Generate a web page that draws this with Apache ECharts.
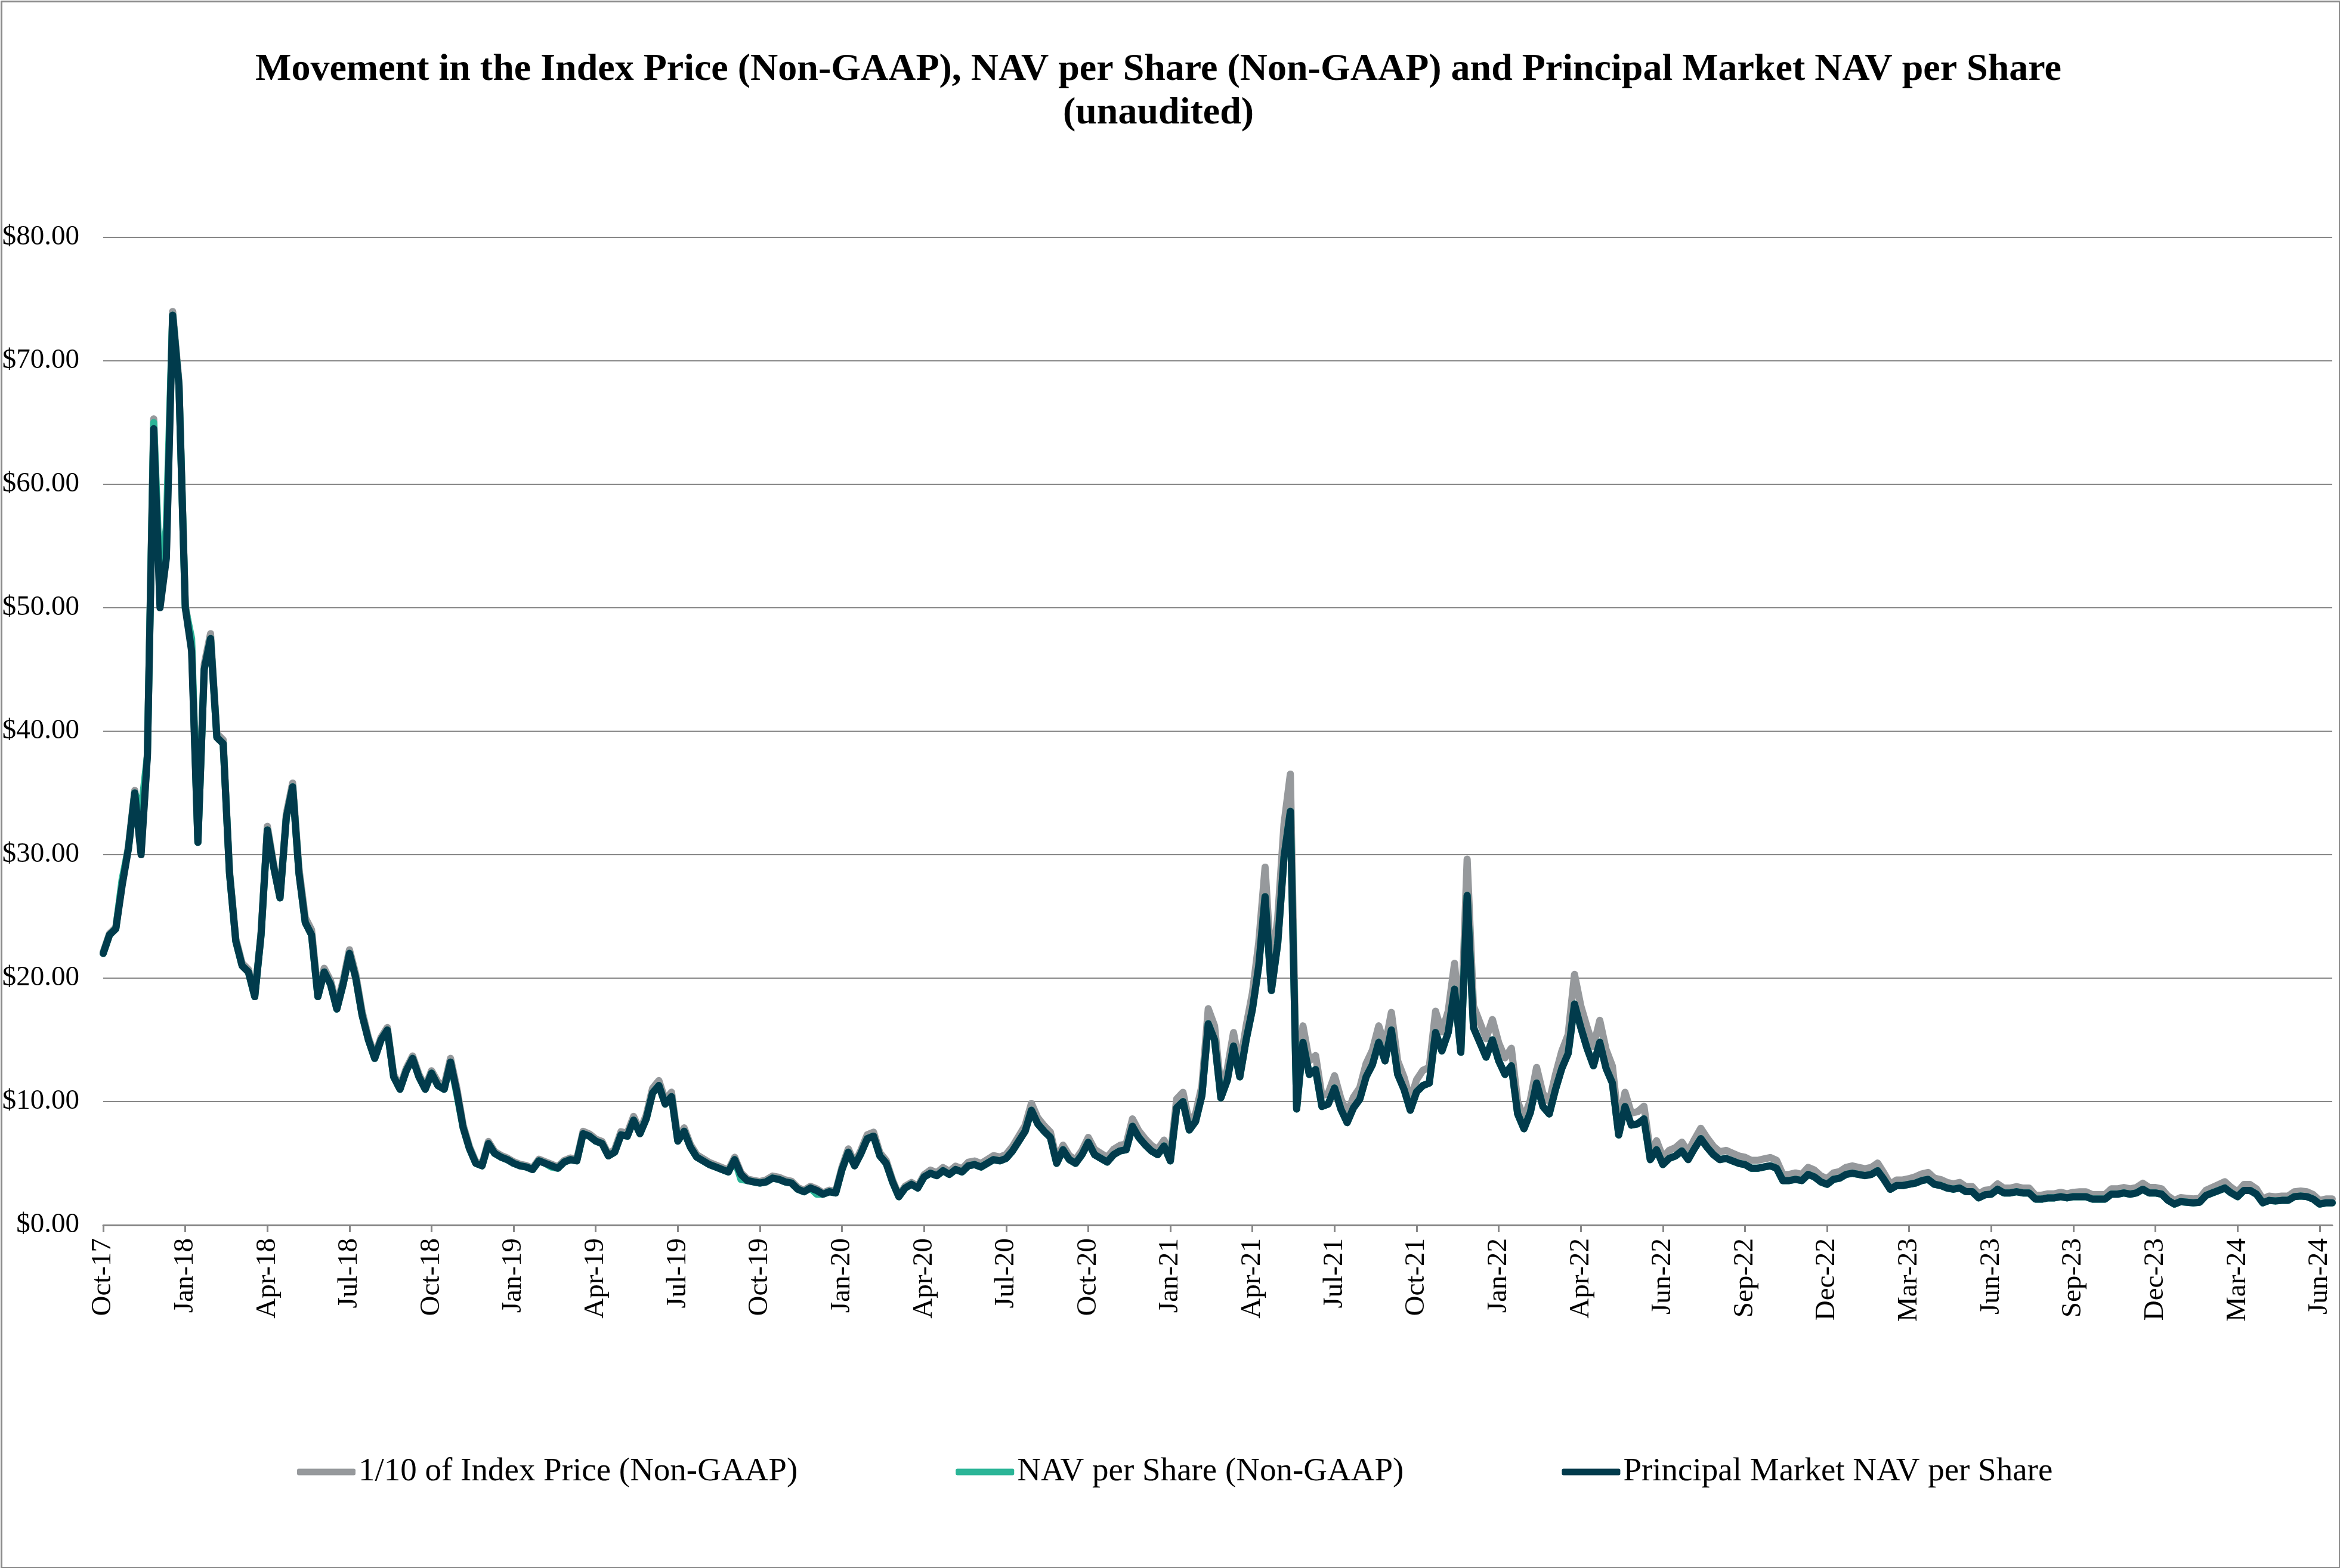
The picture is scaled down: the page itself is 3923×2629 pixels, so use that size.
<!DOCTYPE html>
<html>
<head>
<meta charset="utf-8">
<script src="https://cdn.jsdelivr.net/npm/echarts@6/dist/echarts.min.js"></script>
<style>
html,body{margin:0;padding:0;background:#fff;}
#chart{width:3923px;height:2629px;}
</style>
</head>
<body>
<div id="chart"></div>
<script>
// Quarterly tick labels (one every 13 weekly points)
const tickLabels = ["Oct-17","Jan-18","Apr-18","Jul-18","Oct-18","Jan-19","Apr-19","Jul-19","Oct-19","Jan-20","Apr-20","Jul-20","Oct-20","Jan-21","Apr-21","Jul-21","Oct-21","Jan-22","Apr-22","Jun-22","Sep-22","Dec-22","Mar-23","Jun-23","Sep-23","Dec-23","Mar-24","Jun-24"];
const seriesNames = ["1/10 of Index Price (Non-GAAP)","NAV per Share (Non-GAAP)","Principal Market NAV per Share"];

// Principal Market NAV per Share (weekly)
const principalNav = [
22.0,23.5,24.0,27.5,30.5,35.0,30.0,38.0,64.5,50.0,54.0,73.7,68.0,50.0,46.5,31.0,45.0,47.5,39.5,39.0,
28.5,23.0,21.0,20.5,18.5,23.5,32.0,29.0,26.5,33.0,35.5,28.5,24.5,23.5,18.5,20.5,19.5,17.5,19.5,22.0,
20.0,17.0,15.0,13.5,15.0,15.8,12.0,11.0,12.5,13.5,12.0,11.0,12.3,11.3,11.0,13.2,10.8,7.9,6.2,5.0,
4.8,6.6,5.8,5.5,5.3,5.0,4.8,4.7,4.5,5.2,5.0,4.8,4.6,5.1,5.3,5.2,7.4,7.2,6.8,6.6,
5.6,5.9,7.3,7.2,8.5,7.4,8.6,10.7,11.3,9.8,10.4,6.8,7.6,6.3,5.5,5.2,4.9,4.7,4.5,4.3,
5.3,4.1,3.6,3.5,3.4,3.5,3.8,3.7,3.5,3.4,2.9,2.7,3.0,2.8,2.5,2.7,2.6,4.5,5.9,4.8,
5.8,7.0,7.2,5.6,5.0,3.5,2.3,3.0,3.3,3.0,3.9,4.2,4.0,4.4,4.1,4.5,4.3,4.8,4.9,4.7,
5.0,5.3,5.2,5.4,6.0,6.8,7.6,9.3,8.2,7.6,7.1,5.0,6.1,5.3,5.0,5.7,6.7,5.7,5.4,5.1,
5.7,6.0,6.1,8.0,7.1,6.5,6.0,5.7,6.4,5.2,9.5,10.0,7.7,8.4,10.5,16.3,15.0,10.3,11.7,14.5,
12.0,15.0,17.5,21.0,26.6,19.0,22.8,29.8,33.5,9.4,14.8,12.2,12.6,9.6,9.8,11.1,9.4,8.3,9.5,10.2,
12.0,13.0,14.8,13.3,15.8,12.2,11.0,9.3,10.8,11.3,11.5,15.6,14.1,15.6,19.1,14.0,26.7,16.0,14.8,13.6,
15.0,13.3,12.2,12.9,9.0,7.8,9.1,11.5,9.6,9.0,11.0,12.7,13.9,17.9,16.0,14.3,12.9,14.8,12.7,11.5,
7.3,9.6,8.1,8.2,8.6,5.3,6.1,4.9,5.4,5.6,6.0,5.3,6.2,7.0,6.3,5.7,5.3,5.4,5.2,5.0,
4.9,4.6,4.6,4.7,4.8,4.6,3.6,3.6,3.7,3.6,4.1,3.9,3.5,3.3,3.7,3.8,4.1,4.2,4.1,4.0,
4.1,4.4,3.7,2.9,3.2,3.2,3.3,3.4,3.6,3.7,3.3,3.2,3.0,2.9,3.0,2.7,2.7,2.2,2.45,2.5,
2.9,2.6,2.6,2.7,2.6,2.6,2.1,2.1,2.2,2.2,2.3,2.2,2.3,2.3,2.3,2.1,2.1,2.1,2.5,2.5,
2.6,2.5,2.6,2.9,2.6,2.6,2.5,2.0,1.7,1.9,1.85,1.8,1.85,2.4,2.6,2.8,3.0,2.6,2.3,2.8,
2.8,2.5,1.8,2.0,1.95,2.0,2.0,2.3,2.35,2.3,2.1,1.7,1.8,1.8
];

// NAV per Share (Non-GAAP)
const navPerShare = [
22.0,23.5,24.0,28.0,30.5,35.0,33.5,38.0,65.0,52.0,56.5,73.7,68.0,50.0,47.5,31.0,45.0,47.5,39.5,39.0,
28.5,23.0,21.0,20.5,18.5,23.5,32.0,29.0,26.5,33.0,35.5,28.5,24.5,23.5,18.5,20.5,19.5,17.5,19.5,22.0,
20.0,17.0,15.0,13.5,15.0,15.8,12.0,11.0,12.5,13.5,12.0,11.0,12.3,11.3,11.0,13.2,10.6,7.9,6.2,5.0,
4.8,6.6,5.8,5.5,5.3,5.0,4.8,4.7,4.5,5.2,5.0,4.7,4.6,5.1,5.3,5.2,7.4,7.2,6.8,6.6,
5.6,5.9,7.3,7.2,8.5,7.4,8.6,10.7,11.3,9.8,10.4,6.8,7.6,6.3,5.5,5.2,4.9,4.7,4.5,4.3,
5.3,3.7,3.6,3.5,3.4,3.5,3.8,3.7,3.5,3.4,2.9,2.7,3.0,2.5,2.5,2.7,2.6,4.5,5.9,4.8,
5.8,7.0,7.2,5.6,5.0,3.5,2.3,3.0,3.3,3.0,3.9,4.2,4.0,4.4,4.1,4.5,4.3,4.8,4.9,4.7,
5.0,5.3,5.2,5.4,6.0,6.8,7.6,9.3,8.2,7.6,7.1,5.0,6.1,5.3,5.0,5.7,6.7,5.7,5.4,5.1,
5.7,6.0,6.1,8.0,7.1,6.5,6.0,5.7,6.4,5.2,9.5,10.0,7.7,8.4,10.5,16.3,15.0,10.3,11.7,14.5,
12.0,15.0,17.5,21.0,26.6,19.0,22.8,29.8,33.5,9.4,14.8,12.2,12.6,9.6,9.8,11.1,9.4,8.3,9.5,10.2,
12.0,13.0,14.8,13.3,15.8,12.2,11.0,9.3,10.8,11.3,11.5,15.6,14.1,15.6,19.1,14.0,26.7,16.0,14.8,13.6,
15.0,13.3,12.2,12.9,9.0,7.8,9.1,11.5,9.6,9.0,11.0,12.7,13.9,17.9,16.0,14.3,12.9,14.8,12.7,11.5,
7.3,9.6,8.1,8.2,8.6,5.3,6.1,4.9,5.4,5.6,6.0,5.3,6.2,7.0,6.3,5.7,5.3,5.4,5.2,5.0,
4.9,4.6,4.6,4.7,4.8,4.6,3.6,3.6,3.7,3.6,4.1,3.9,3.5,3.3,3.7,3.8,4.1,4.2,4.1,4.0,
4.1,4.4,3.7,2.9,3.2,3.2,3.3,3.4,3.6,3.7,3.3,3.2,3.0,2.9,3.0,2.7,2.7,2.2,2.45,2.5,
2.9,2.6,2.6,2.7,2.6,2.6,2.1,2.1,2.2,2.2,2.3,2.2,2.3,2.3,2.3,2.1,2.1,2.1,2.5,2.5,
2.6,2.5,2.6,2.9,2.6,2.6,2.5,2.0,1.7,1.9,1.85,1.8,1.85,2.4,2.6,2.8,3.0,2.6,2.3,2.8,
2.8,2.5,1.8,2.0,1.95,2.0,2.0,2.3,2.35,2.3,2.1,1.7,1.8,1.8
];

// 1/10 of Index Price (Non-GAAP)
const indexPriceTenth = [
22.1,23.6,24.1,27.7,30.7,35.2,30.2,38.2,65.3,50.3,54.3,74.0,68.3,50.3,46.9,31.2,45.4,47.9,39.8,39.3,
28.7,23.2,21.2,20.7,18.6,23.7,32.3,29.2,26.7,33.3,35.8,28.9,24.9,23.9,18.8,20.8,19.8,17.8,19.8,22.3,
20.3,17.3,15.2,13.7,15.2,16.0,12.2,11.2,12.7,13.7,12.2,11.2,12.5,11.6,11.3,13.5,11.1,8.1,6.35,5.13,
4.92,6.77,5.95,5.64,5.43,5.13,4.92,4.82,4.61,5.33,5.13,4.92,4.72,5.23,5.43,5.33,7.59,7.38,6.97,6.77,
5.74,6.11,7.56,7.45,8.80,7.66,8.90,11.07,11.70,10.14,10.76,7.04,7.87,6.52,5.69,5.38,5.07,4.86,4.66,4.45,
5.49,4.24,3.73,3.62,3.52,3.66,3.97,3.87,3.66,3.55,3.03,2.82,3.14,2.93,2.61,2.82,2.72,4.70,6.17,5.02,
6.06,7.32,7.52,5.85,5.23,3.66,2.40,3.14,3.45,3.14,4.08,4.45,4.24,4.66,4.35,4.77,4.56,5.09,5.19,4.98,
5.30,5.62,5.51,5.72,6.36,7.21,8.06,9.86,8.69,8.06,7.53,5.30,6.47,5.62,5.30,6.04,7.10,6.13,5.81,5.48,
6.13,6.45,6.56,8.60,7.63,6.99,6.45,6.13,6.88,5.59,10.21,10.75,8.28,9.03,11.29,17.52,16.13,11.07,12.58,15.59,
12.90,16.13,18.81,22.89,28.99,20.71,24.85,32.48,36.52,10.25,16.13,13.30,13.73,10.46,10.68,12.10,10.25,9.05,10.36,11.12,
13.08,14.17,16.13,14.50,17.22,13.30,11.99,10.14,11.77,12.54,12.77,17.32,15.65,17.32,21.20,15.54,29.64,17.76,16.43,15.10,
16.65,14.76,13.54,14.32,9.99,8.66,10.10,12.77,10.66,9.99,12.21,14.10,15.43,20.30,17.76,16.02,14.45,16.58,14.22,12.88,
8.18,10.75,9.07,9.18,9.63,5.94,6.83,5.49,6.05,6.27,6.72,5.94,6.94,7.84,7.06,6.38,5.94,6.05,5.82,5.60,
5.49,5.24,5.24,5.36,5.47,5.24,4.10,4.10,4.22,4.10,4.67,4.45,3.99,3.76,4.22,4.33,4.67,4.79,4.67,4.56,
4.67,5.02,4.22,3.31,3.65,3.65,3.76,3.91,4.14,4.26,3.80,3.68,3.45,3.34,3.45,3.11,3.11,2.53,2.82,2.88,
3.34,2.99,2.99,3.11,2.99,2.99,2.42,2.42,2.53,2.53,2.65,2.53,2.65,2.69,2.69,2.46,2.46,2.46,2.93,2.93,
3.04,2.93,3.04,3.39,3.04,3.04,2.93,2.34,1.99,2.22,2.16,2.11,2.16,2.81,3.04,3.28,3.51,3.04,2.69,3.28,
3.28,2.93,2.11,2.34,2.28,2.34,2.34,2.69,2.75,2.69,2.46,1.99,2.11,2.11
];

const yTicks = {min: 0, max: 80, interval: 10};
const TICK_STEP = 13;
const categories = principalNav.map((_, i) => String(i));

const FONT = '"Liberation Serif", "Times New Roman", serif';
const colors = ['#96999c', '#2bb597', '#013b4c'];

const chart = echarts.init(document.getElementById('chart'), null, {renderer: 'canvas'});

function lineSeries(name, data, color) {
  return {
    name: name,
    type: 'line',
    data: data,
    symbol: 'none',
    showSymbol: false,
    smooth: false,
    lineStyle: {width: 12, color: color, cap: 'round', join: 'round'},
    itemStyle: {color: color},
    emphasis: {disabled: true},
    animation: false
  };
}

chart.setOption({
  backgroundColor: '#ffffff',
  animation: false,
  color: colors,
  title: {
    text: 'Movement in the Index Price (Non-GAAP), NAV per Share (Non-GAAP) and Principal Market NAV per Share\n(unaudited)',
    left: 1937,
    top: 76,
    textAlign: 'center',
    textStyle: {
      fontFamily: FONT,
      fontWeight: 'bold',
      fontSize: 64,
      lineHeight: 73,
      color: '#000'
    }
  },
  legend: {
    data: seriesNames,
    left: 493,
    top: 2433,
    icon: 'roundRect',
    itemWidth: 98,
    itemHeight: 11,
    itemGap: 265,
    textStyle: {fontFamily: FONT, fontSize: 55, color: '#000', lineHeight: 60}
  },
  grid: {left: 173, right: 13, top: 398, bottom: 575, containLabel: false},
  xAxis: {
    type: 'category',
    data: categories,
    boundaryGap: false,
    axisLine: {show: true, lineStyle: {color: '#878787', width: 3}},
    axisTick: {show: true, interval: TICK_STEP - 1, length: 12, lineStyle: {color: '#878787', width: 3}},
    axisLabel: {
      interval: TICK_STEP - 1,
      rotate: 90,
      margin: 22,
      fontFamily: FONT,
      fontSize: 47,
      color: '#000',
      formatter: function (v, idx) { return tickLabels[Math.round(idx / TICK_STEP)] || ''; }
    },
    splitLine: {show: false}
  },
  yAxis: {
    type: 'value',
    min: yTicks.min,
    max: yTicks.max,
    interval: yTicks.interval,
    axisLine: {show: false},
    axisTick: {show: false},
    axisLabel: {
      margin: 40,
      fontFamily: FONT,
      fontSize: 47,
      color: '#000',
      formatter: function (v) { return '$' + v.toFixed(2); }
    },
    splitLine: {show: true, lineStyle: {color: '#878787', width: 2}}
  },
  graphic: [{
    type: 'rect',
    left: 0, top: 0, z: 100, silent: true,
    shape: {x: 1.5, y: 1.5, width: 3920, height: 2626},
    style: {fill: 'none', stroke: '#8a8a8a', lineWidth: 3}
  }],
  series: [
    lineSeries(seriesNames[0], indexPriceTenth, colors[0]),
    lineSeries(seriesNames[1], navPerShare, colors[1]),
    lineSeries(seriesNames[2], principalNav, colors[2])
  ]
});
</script>
</body>
</html>
